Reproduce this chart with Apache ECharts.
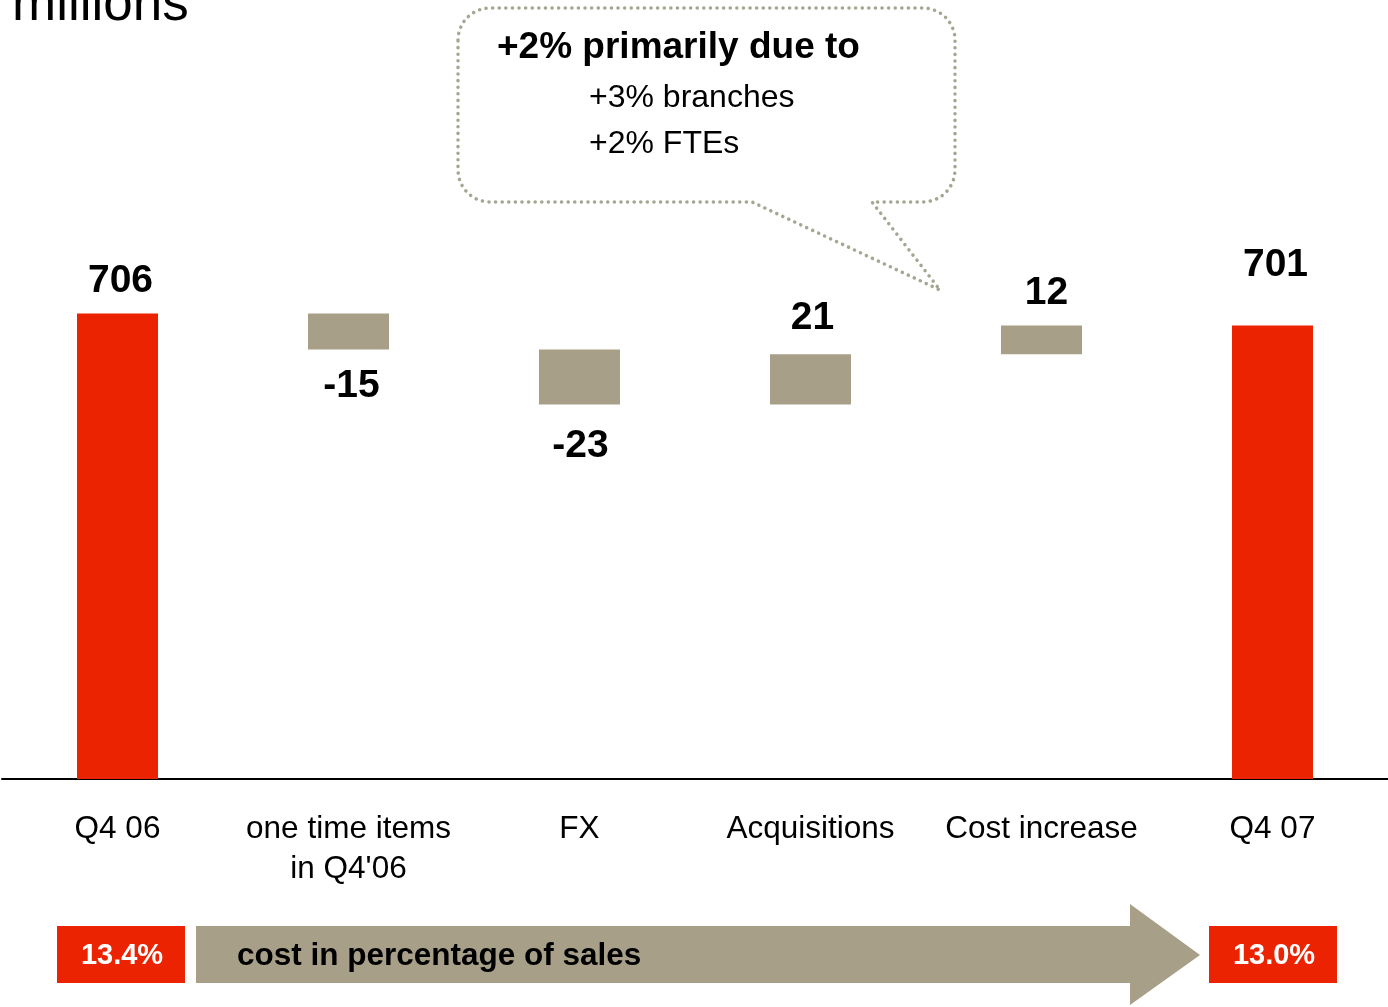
<!DOCTYPE html>
<html>
<head>
<meta charset="utf-8">
<script src="https://cdn.jsdelivr.net/npm/echarts@6/dist/echarts.min.js"></script>
<style>
html,body{margin:0;padding:0;background:#fff;}
#chart{width:1388px;height:1007px;}
</style>
</head>
<body>
<div id="chart"></div>
<script>
const categories = ['Q4 06', 'one time items\nin Q4\'06', 'FX', 'Acquisitions', 'Cost increase', 'Q4 07'];
const startValue = 706;
const changes = [-15, -23, 21, 12];
const endValue = 701;
const pctStart = '13.4%';
const pctEnd = '13.0%';
const arrowText = 'cost in percentage of sales';
const calloutTitle = '+2% primarily due to';
const calloutLines = ['+3% branches', '+2% FTEs'];
const unitTitle = 'millions';

const RED = '#EB2300';
const TAN = '#A89F88';
const FONT = '"Liberation Sans", Arial, sans-serif';

// Build waterfall data
const baseData = [0];
const visData = [startValue];
const labelText = [String(startValue)];
let running = startValue;
changes.forEach(d => {
  const next = running + d;
  baseData.push(Math.min(running, next));
  visData.push(Math.abs(d));
  labelText.push(String(d));
  running = next;
});
baseData.push(0);
visData.push(endValue);
labelText.push(String(endValue));

const labelPos = [
  {position: 'top', distance: 13, offset: [3, 0]},
  {position: 'bottom', distance: 17, offset: [3, 0]},
  {position: 'bottom', distance: 22, offset: [1, 0]},
  {position: 'top', distance: 16, offset: [2, 0]},
  {position: 'top', distance: 13, offset: [5, 0]},
  {position: 'top', distance: 41, offset: [3, 0]}
];

const visSeriesData = visData.map((v, i) => ({
  value: v,
  itemStyle: {color: (i === 0 || i === visData.length - 1) ? RED : TAN},
  label: labelPos[i]
}));

// callout outline points (rounded rectangle with tail)
function arc(cx, cy, r, a0, a1, n) {
  const pts = [];
  for (let k = 0; k <= n; k++) {
    const a = a0 + (a1 - a0) * k / n;
    pts.push([cx + r * Math.cos(a), cy + r * Math.sin(a)]);
  }
  return pts;
}
const L = 458, R = 955, T = 8, B = 202, rad = 32;
let calloutPts = [];
calloutPts = calloutPts.concat(arc(L + rad, T + rad, rad, Math.PI, 1.5 * Math.PI, 10));
calloutPts = calloutPts.concat(arc(R - rad, T + rad, rad, 1.5 * Math.PI, 2 * Math.PI, 10));
calloutPts = calloutPts.concat(arc(R - rad, B - rad, rad, 0, 0.5 * Math.PI, 10));
calloutPts.push([872, B], [940, 290], [752, B]);
calloutPts = calloutPts.concat(arc(L + rad, B - rad, rad, 0.5 * Math.PI, Math.PI, 10));
calloutPts.push([L, T + rad]);

const chart = echarts.init(document.getElementById('chart'));
chart.setOption({
  backgroundColor: '#fff',
  animation: false,
  grid: {left: 2, right: 0, top: 179, bottom: 228, containLabel: false},
  xAxis: {
    type: 'category',
    data: categories,
    axisLine: {lineStyle: {color: '#000', width: 2}},
    axisTick: {show: false},
    axisLabel: {
      color: '#000', fontSize: 31.5, fontFamily: FONT, lineHeight: 40, margin: 30, interval: 0
    }
  },
  yAxis: {
    type: 'value', min: 512, max: 762,
    show: false, splitLine: {show: false}
  },
  series: [
    {
      type: 'bar', stack: 'w', data: baseData, barWidth: 81,
      itemStyle: {color: 'rgba(0,0,0,0)'}, silent: true
    },
    {
      type: 'bar', stack: 'w', data: visSeriesData, barWidth: 81,
      label: {
        show: true, color: '#000', fontSize: 39, fontWeight: 'bold', fontFamily: FONT,
        formatter: p => labelText[p.dataIndex]
      }
    }
  ],
  graphic: [
    {
      type: 'text', x: 12, y: 32,
      style: {text: unitTitle, font: '53px ' + FONT, fill: '#000', textVerticalAlign: 'bottom'}
    },
    {
      type: 'polyline',
      shape: {points: calloutPts},
      style: {fill: 'none', stroke: '#A3A690', lineWidth: 3.5, lineDash: [0.1, 6.5], lineCap: 'round'}
    },
    {
      type: 'text', x: 497, y: 48,
      style: {text: calloutTitle, font: 'bold 37px ' + FONT, fill: '#000', textVerticalAlign: 'middle'}
    },
    {
      type: 'text', x: 589, y: 98,
      style: {text: calloutLines[0], font: '32px ' + FONT, fill: '#000', textVerticalAlign: 'middle'}
    },
    {
      type: 'text', x: 589, y: 144,
      style: {text: calloutLines[1], font: '32px ' + FONT, fill: '#000', textVerticalAlign: 'middle'}
    },
    {
      type: 'rect', shape: {x: 57, y: 926, width: 128, height: 57},
      style: {fill: RED}
    },
    {
      type: 'text', x: 122, y: 956,
      style: {text: pctStart, font: 'bold 29px ' + FONT, fill: '#fff', textAlign: 'center', textVerticalAlign: 'middle'}
    },
    {
      type: 'polygon',
      shape: {points: [[196, 926], [1130, 926], [1130, 904], [1200, 955], [1130, 1005], [1130, 983], [196, 983]]},
      style: {fill: TAN}
    },
    {
      type: 'text', x: 237, y: 956,
      style: {text: arrowText, font: 'bold 31.5px ' + FONT, fill: '#000', textVerticalAlign: 'middle'}
    },
    {
      type: 'rect', shape: {x: 1209, y: 926, width: 128, height: 57},
      style: {fill: RED}
    },
    {
      type: 'text', x: 1274, y: 956,
      style: {text: pctEnd, font: 'bold 29px ' + FONT, fill: '#fff', textAlign: 'center', textVerticalAlign: 'middle'}
    }
  ]
});
</script>
</body>
</html>
